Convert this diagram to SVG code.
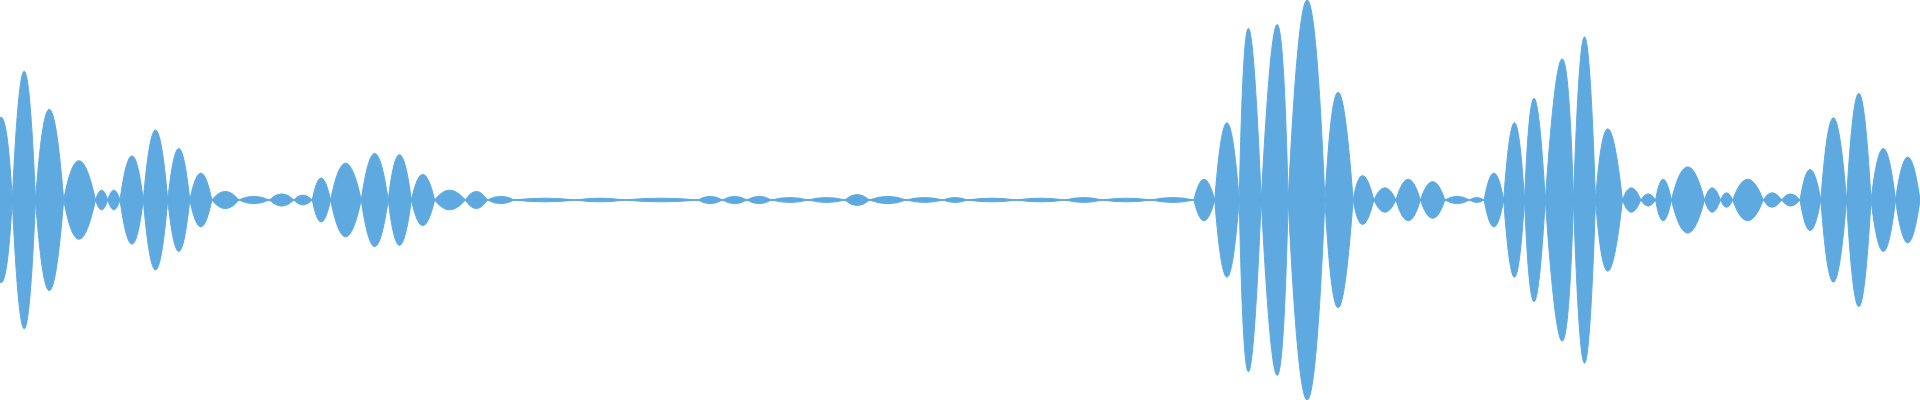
<svg xmlns="http://www.w3.org/2000/svg" width="1920" height="400" viewBox="0 0 1920 400">
<defs>
<style>.w{fill:#5DA9E0;stroke:#5DA9E0;stroke-width:0.8}</style>
<path id="env" d="M0,163 L0,96 Q6,90 10,163 Q20,-47 29,163 Q40,15 52,163 Q64,99 78,163 Q83,147 88,163 Q93,147 98,163 Q108,91 117,163 Q127,49 137,163 Q146,79 155,163 Q164,119 173,163 Q184,149 195,163 Q207,157 220,163 Q230,153 240,163 Q247,155 255,163 Q262,127 270,163 Q282,103 295,163 Q306,87 317,163 Q326,89 336,163 Q345,121 355,163 Q367,147 380,163 Q389,149 398,163 Q409,157 420,163 Q445,160 470,163 Q490,160 510,163 Q540,160 570,163 Q580,157 590,163 Q600,157 610,163 Q620,157 630,163 Q645,159 660,163 Q675,159 690,163 Q700,154 710,163 Q725,157 740,163 Q755,159 770,163 Q780,159 790,163 Q810,160 830,163 Q850,160 870,163 Q885,159 900,163 Q920,160 940,163 Q958,159 975,163 Q983,129 992,163 Q1002,37 1012,163 Q1018,-117 1030,163 Q1045,-123 1052,163 Q1068,-163 1082,163 Q1092,-13 1105,163 Q1112,123 1122,163 Q1131,143 1140,163 Q1150,129 1160,163 Q1170,133 1180,163 Q1190,157 1200,163 Q1206,159 1212,163 Q1220,119 1228,163 Q1237,37 1245,163 Q1252,-3 1262,163 Q1278,-67 1285,163 Q1294,-103 1303,163 Q1312,47 1325,163 Q1332,143 1340,163 Q1346,153 1352,163 Q1358,129 1365,163 Q1378,109 1392,163 Q1398,143 1405,163 Q1410,151 1415,163 Q1427,129 1440,163 Q1447,151 1455,163 Q1462,153 1470,163 Q1478,113 1487,163 Q1497,29 1508,163 Q1518,-11 1528,163 Q1538,79 1548,163 Q1558,93 1568,163 Z"/>
</defs>
<g transform="scale(1.2245,1.227)">
<use href="#env" class="w"/>
<use href="#env" class="w" transform="translate(0,326) scale(1,-1)"/>
</g>
</svg>
